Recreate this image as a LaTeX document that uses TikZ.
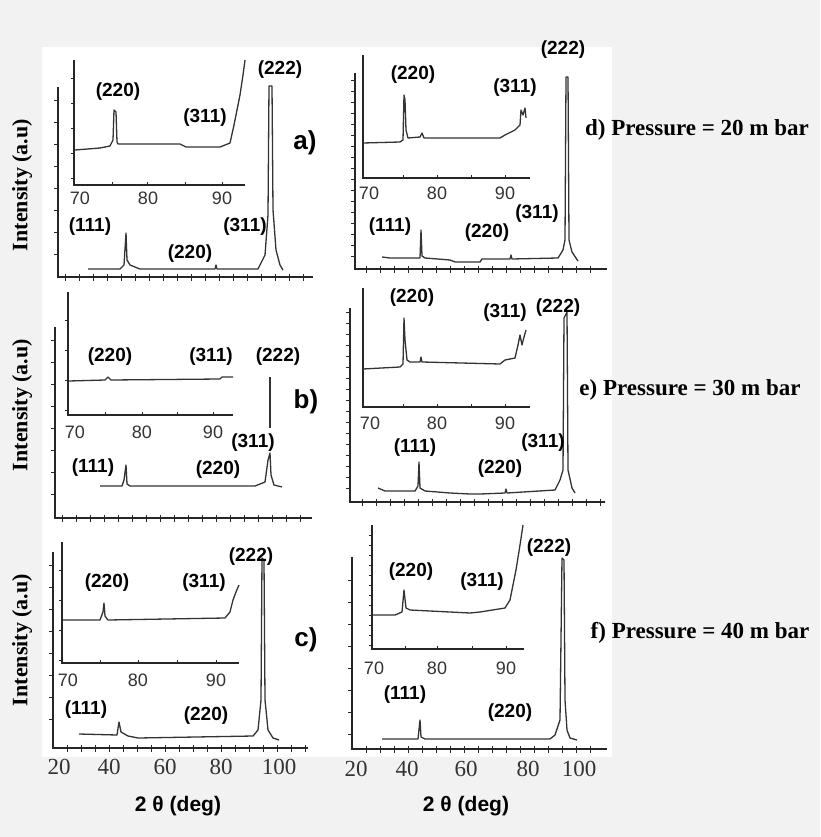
\documentclass[tikz,border=0pt]{standalone}
\usepackage{fontspec}
\setmainfont{Liberation Serif}
\setsansfont{Liberation Sans}
\begin{document}
\begin{tikzpicture}[x=1pt,y=-1pt,
  ax/.style={line width=1.4pt,black!85},
  tk/.style={line width=0.9pt,black!85},
  cv/.style={line width=1.3pt,black!80,line join=round},
  lbl/.style={font=\sffamily\bfseries\fontsize{19}{19}\selectfont,inner sep=0pt},
  plab/.style={font=\sffamily\bfseries\fontsize{26}{26}\selectfont,inner sep=0pt},
  itk/.style={font=\sffamily\fontsize{18}{18}\selectfont,inner sep=0pt,text=black!80},
  mtk/.style={font=\rmfamily\fontsize{23}{23}\selectfont,inner sep=0pt,text=black!80},
  ylab/.style={font=\rmfamily\bfseries\fontsize{22}{22}\selectfont,inner sep=0pt,rotate=90},
  xlab/.style={font=\sffamily\bfseries\fontsize{21}{21}\selectfont,inner sep=0pt},
  pres/.style={font=\rmfamily\bfseries\fontsize{23}{23}\selectfont,inner sep=0pt}]
\useasboundingbox (0,0) rectangle (820,837);
\fill[black!5] (0,0) rectangle (820,837);
\fill[white] (42,47) rectangle (612,757);

% ===== panel a
\draw[ax] (58,87) -- (58,277) -- (313,277);
\foreach \x in {65,79,...,310} \draw[tk] (\x,274) -- (\x,281);
\foreach \y in {100,122,...,270} \draw[tk] (54,\y) -- (58,\y);
\draw[ax] (74,60) -- (74,185) -- (245,185);
\foreach \y in {78,103,...,180} \draw[tk] (71,\y) -- (74,\y);
\foreach \x in {112,147,185,222} \draw[tk] (\x,182) -- (\x,185);
\node[itk] (a70) at (80,198) {70};
\node[itk] (a80) at (148,198) {80};
\node[itk] (a90) at (222,198) {90};
\draw[cv] (75,150)--(100,148)--(110,146)--(113,140)--(114,110)--(116,112)--(117,142)--(118,144)--(180,144)--(186,147)--(220,147)--(230,143)--(234,125)--(240,95)--(243,75)--(245,60);
\draw[cv] (88,269)--(120,269)--(124,265)--(126,233)--(127,260)--(130,265)--(140,269)--(215,269)--(216,265)--(217,269)--(258,269)--(265,255)--(268,215)--(269,86)--(272,86)--(273,210)--(276,250)--(280,265)--(283,270);
\node[lbl] (a222) at (280,70) {(222)};
\node[plab] (al) at (305,143) {a)};
\node[lbl] (ai220) at (118,92) {(220)};
\node[lbl] (ai311) at (205,118) {(311)};
\node[lbl] (a111) at (90,227) {(111)};
\node[lbl] (a220) at (190,254) {(220)};
\node[lbl] (a311) at (245,227) {(311)};
\node[ylab] (ay) at (22,185) {Intensity (a.u)};

% ===== panel b
\draw[ax] (55,327) -- (55,518) -- (312,518);
\foreach \x in {62,76,...,310} \draw[tk] (\x,515) -- (\x,522);
\foreach \y in {340,362,...,510} \draw[tk] (51,\y) -- (55,\y);
\draw[ax] (68,292) -- (68,415) -- (233,415);
\foreach \y in {320,350,...,410} \draw[tk] (65,\y) -- (68,\y);
\foreach \x in {105,142,177,213} \draw[tk] (\x,412) -- (\x,415);
\node[itk] (b70) at (75,432) {70};
\node[itk] (b80) at (142,432) {80};
\node[itk] (b90) at (213,432) {90};
\draw[cv] (69,381)--(105,380)--(108,377)--(111,380)--(220,379)--(222,377)--(233,377);
\draw[cv] (100,486)--(122,486)--(124,480)--(126,465)--(127,484)--(130,486)--(255,486)--(265,482)--(268,460)--(270,453)--(271,475)--(274,485)--(282,487);
\draw[cv] (270,377)--(270,428);
\node[lbl] (bi220) at (110,357) {(220)};
\node[lbl] (bi311) at (211,357) {(311)};
\node[lbl] (b222) at (278,357) {(222)};
\node[plab] (bl) at (306,402) {b)};
\node[lbl] (b311) at (253,443) {(311)};
\node[lbl] (b111) at (93,468) {(111)};
\node[lbl] (b220) at (218,470) {(220)};
\node[ylab] (by) at (22,405) {Intensity (a.u)};

% ===== panel c
\draw[ax] (53,552) -- (53,748) -- (308,748);
\foreach \x in {67,81,...,305} \draw[tk] (\x,745) -- (\x,752);
\foreach \y in {565,587,...,740} \draw[tk] (49,\y) -- (53,\y);
\draw[ax] (62,542) -- (62,663) -- (239,663);
\foreach \y in {570,600,...,660} \draw[tk] (59,\y) -- (62,\y);
\foreach \x in {100,138,177,216} \draw[tk] (\x,660) -- (\x,663);
\node[itk] (c70) at (68,680) {70};
\node[itk] (c80) at (138,680) {80};
\node[itk] (c90) at (216,680) {90};
\draw[cv] (63,620)--(100,620)--(103,612)--(104,603)--(105,616)--(108,620)--(225,618)--(230,612)--(233,600)--(236,592)--(239,585);
\draw[cv] (79,734)--(117,735)--(119,722)--(121,732)--(128,736)--(138,738)--(253,736)--(258,730)--(261,700)--(262,558)--(264,560)--(265,700)--(268,730)--(273,738)--(279,740);
\node[lbl] (c222) at (251,557) {(222)};
\node[lbl] (ci220) at (107,583) {(220)};
\node[lbl] (ci311) at (204,583) {(311)};
\node[plab] (cl) at (306,640) {c)};
\node[lbl] (c111) at (86,710) {(111)};
\node[lbl] (c220) at (206,716) {(220)};
\node[ylab] (cy) at (22,640) {Intensity (a.u)};
\node[mtk] (c20) at (59,767) {20};
\node[mtk] (c40) at (109,767) {40};
\node[mtk] (c60) at (165,767) {60};
\node[mtk] (c80m) at (221,767) {80};
\node[mtk] (c100) at (279,767) {100};
\node[xlab] (cx) at (178,806) {2 θ (deg)};

% ===== panel d
\draw[ax] (355,73) -- (355,269) -- (607,269);
\foreach \x in {366,380,...,600} \draw[tk] (\x,266) -- (\x,273);
\foreach \y in {80,91,...,262} \draw[tk] (351,\y) -- (355,\y);
\draw[ax] (363,55) -- (363,178) -- (530,178);
\foreach \x in {403,437,471,505} \draw[tk] (\x,175) -- (\x,178);
\node[itk] (d70) at (369,193) {70};
\node[itk] (d80) at (437,193) {80};
\node[itk] (d90) at (505,193) {90};
\draw[cv] (363,143)--(400,142)--(403,140)--(404,95)--(405,100)--(406,130)--(408,138)--(420,137)--(422,133)--(424,138)--(500,138)--(505,135)--(515,130)--(520,125)--(521,110)--(523,115)--(525,108)--(526,118);
\draw[cv] (382,257)--(390,258)--(420,258)--(421,230)--(422,256)--(425,258)--(450,260)--(455,262)--(480,262)--(482,259)--(510,259)--(511,255)--(512,259)--(558,258)--(563,250)--(565,240)--(566,77)--(568,77)--(569,240)--(572,252)--(578,261);
\node[lbl] (d222) at (563,50) {(222)};
\node[lbl] (di220) at (413,75) {(220)};
\node[lbl] (di311) at (515,88) {(311)};
\node[pres] (dp) at (697,130) {d) Pressure = 20 m bar};
\node[lbl] (d111) at (390,227) {(111)};
\node[lbl] (d220) at (487,233) {(220)};
\node[lbl] (d311) at (537,214) {(311)};

% ===== panel e
\draw[ax] (350,308) -- (350,502) -- (605,502);
\foreach \x in {362,376,...,600} \draw[tk] (\x,499) -- (\x,506);
\foreach \y in {312,323,...,495} \draw[tk] (346,\y) -- (350,\y);
\draw[ax] (363,288) -- (363,407) -- (530,407);
\foreach \x in {403,437,471,505} \draw[tk] (\x,404) -- (\x,407);
\node[itk] (e70) at (370,423) {70};
\node[itk] (e80) at (437,423) {80};
\node[itk] (e90) at (505,423) {90};
\draw[cv] (363,369)--(400,367)--(403,364)--(404,318)--(405,340)--(407,360)--(410,362)--(420,362)--(421,357)--(422,362)--(500,364)--(505,360)--(515,358)--(518,345)--(520,335)--(522,345)--(524,337)--(526,330);
\draw[cv] (378,488)--(385,491)--(415,491)--(418,486)--(419,462)--(420,488)--(425,491)--(450,493)--(470,494)--(480,494)--(505,493)--(506,489)--(507,493)--(555,490)--(560,480)--(563,470)--(564,318)--(567,312)--(568,470)--(572,488)--(575,493);
\node[lbl] (ei220) at (412,298) {(220)};
\node[lbl] (ei311) at (505,313) {(311)};
\node[lbl] (e222) at (558,308) {(222)};
\node[pres] (ep) at (690,390) {e) Pressure = 30 m bar};
\node[lbl] (e111) at (415,448) {(111)};
\node[lbl] (e311) at (543,443) {(311)};
\node[lbl] (e220) at (500,469) {(220)};

% ===== panel f
\draw[ax] (352,557) -- (352,749) -- (607,749);
\foreach \x in {366,380,...,600} \draw[tk] (\x,746) -- (\x,753);
\foreach \y in {580,602,...,740} \draw[tk] (348,\y) -- (352,\y);
\draw[ax] (372,525) -- (372,649) -- (524,649);
\foreach \y in {535,545,...,645} \draw[tk] (369,\y) -- (372,\y);
\foreach \x in {405,437,472,506} \draw[tk] (\x,646) -- (\x,649);
\node[itk] (f70) at (374,668) {70};
\node[itk] (f80) at (437,668) {80};
\node[itk] (f90) at (506,668) {90};
\draw[cv] (373,615)--(395,615)--(402,612)--(404,590)--(406,608)--(410,610)--(470,613)--(480,612)--(505,608)--(510,600)--(513,585)--(516,570)--(520,545)--(523,525);
\draw[cv] (382,739)--(418,739)--(420,720)--(421,737)--(425,739)--(550,739)--(555,735)--(560,720)--(562,558)--(564,560)--(565,700)--(567,730)--(570,738)--(577,740);
\node[lbl] (f222) at (549,548) {(222)};
\node[lbl] (fi220) at (411,572) {(220)};
\node[lbl] (fi311) at (482,582) {(311)};
\node[lbl] (f111) at (405,695) {(111)};
\node[lbl] (f220) at (510,713) {(220)};
\node[pres] (fp) at (700,633) {f) Pressure = 40 m bar};
\node[mtk] (f20) at (356,769) {20};
\node[mtk] (f40) at (407,769) {40};
\node[mtk] (f60) at (466,769) {60};
\node[mtk] (f80m) at (528,769) {80};
\node[mtk] (f100) at (579,769) {100};
\node[xlab] (fx) at (466,806) {2 θ (deg)};
\end{tikzpicture}
\end{document}
